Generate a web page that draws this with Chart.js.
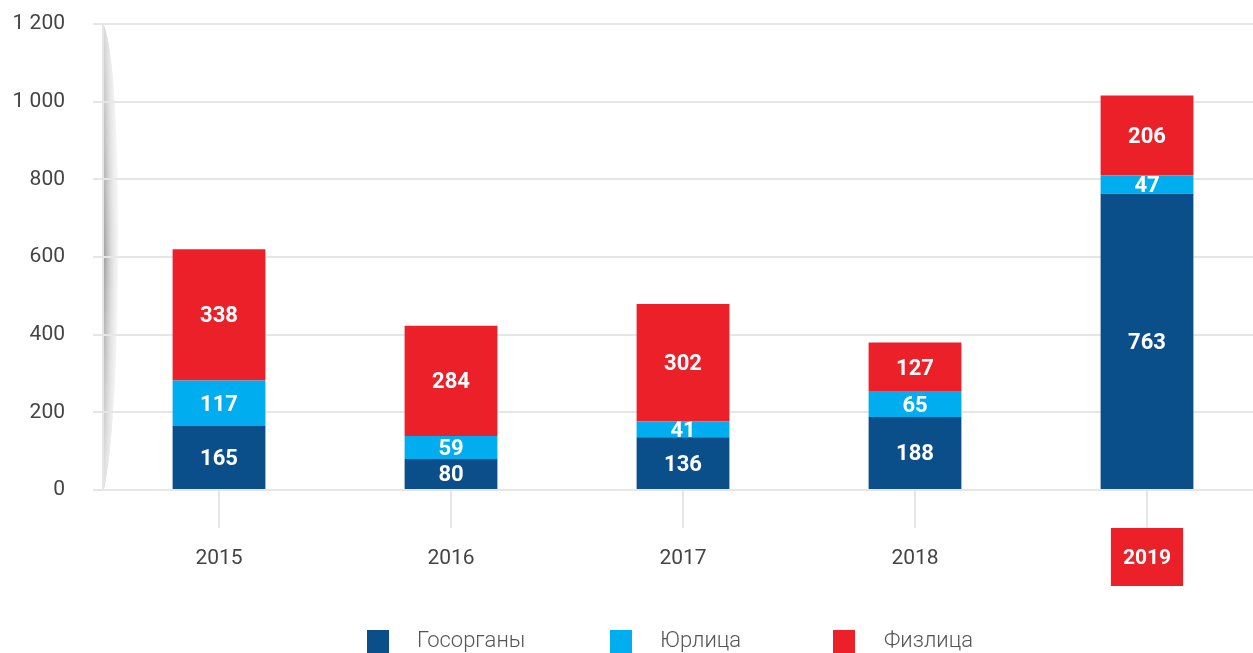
<!DOCTYPE html>
<html lang="ru">
<head>
<meta charset="utf-8">
<script src="https://cdn.jsdelivr.net/npm/chart.js@4/dist/chart.umd.min.js"></script>
<style>
  html, body { margin: 0; padding: 0; background: #fff; overflow: hidden; }
  #wrap { position: relative; width: 1253px; height: 653px; overflow: hidden; }
  #chart { position: absolute; left: 0; top: 0; }
  #legend { position: absolute; left: 0; top: 626px; width: 1253px; height: 30px; font-family: Roboto, sans-serif; font-weight: 300; font-size: 22px; color: #555; }
  .box { position: absolute; top: 4px; width: 22px; height: 24px; }
  .txt { position: absolute; top: 1px; }
</style>
</head>
<body>
<div id="wrap">
  <canvas id="chart" width="1263" height="653"></canvas>
  <div id="legend"></div>
</div>
<script>
// Обращения по годам, в разрезе типа заявителя
const years = ["2015", "2016", "2017", "2018", "2019"];
const gosorgany = [165, 80, 136, 188, 763];
const yurlitsa = [117, 59, 41, 65, 47];
const fizlitsa = [338, 284, 302, 127, 206];

const seriesNames = ["Госорганы", "Юрлица", "Физлица"];
const seriesColors = ["#0a4f8a", "#00aeef", "#ec2029"];
const highlightYear = "2019";

const gridColor = "#e6e6e6";

// подписи значений в центре каждого сегмента
const segmentLabels = {
  id: "segmentLabels",
  afterDatasetsDraw(chart) {
    const ctx = chart.ctx;
    ctx.save();
    ctx.fillStyle = "#fff";
    ctx.font = "bold 22px Roboto, sans-serif";
    ctx.textAlign = "center";
    ctx.textBaseline = "middle";
    chart.data.datasets.forEach((ds, i) => {
      chart.getDatasetMeta(i).data.forEach((bar, j) => {
        const p = bar.getProps(["x", "y", "base"], true);
        ctx.fillText(String(ds.data[j]), p.x, (p.y + p.base) / 2 + 2);
      });
    });
    ctx.restore();
  }
};

// серая тень вдоль оси Y
const axisShade = {
  id: "axisShade",
  beforeDraw(chart) {
    const { top, bottom, left } = chart.chartArea;
    const ctx = chart.ctx;
    const x0 = left + 1;
    const mid = top + (bottom - top) * 0.5;
    ctx.save();
    ctx.beginPath();
    ctx.moveTo(x0, top + 2);
    ctx.bezierCurveTo(x0 + 20, top + 50, x0 + 18, bottom - 80, x0, bottom - 2);
    ctx.closePath();
    ctx.clip();
    const gh = ctx.createLinearGradient(x0, 0, x0 + 17, 0);
    gh.addColorStop(0, "rgba(150,150,150,0.9)");
    gh.addColorStop(0.45, "rgba(200,200,200,0.6)");
    gh.addColorStop(1, "rgba(240,240,240,0.2)");
    ctx.fillStyle = gh;
    ctx.fillRect(x0, top, 20, bottom - top);
    const gv = ctx.createLinearGradient(0, top, 0, bottom);
    gv.addColorStop(0, "rgba(255,255,255,0.6)");
    gv.addColorStop((mid - top) / (bottom - top), "rgba(255,255,255,0)");
    gv.addColorStop(1, "rgba(255,255,255,0.7)");
    ctx.fillStyle = gv;
    ctx.fillRect(x0, top, 20, bottom - top);
    ctx.restore();
  }
};

const ctx = document.getElementById("chart").getContext("2d");
new Chart(ctx, {
  type: "bar",
  data: {
    labels: years,
    datasets: [gosorgany, yurlitsa, fizlitsa].map((values, i) => ({
      label: seriesNames[i],
      data: values,
      backgroundColor: seriesColors[i],
      barPercentage: 0.4,
      categoryPercentage: 1
    }))
  },
  options: {
    responsive: false,
    animation: false,
    devicePixelRatio: 1,
    layout: { padding: { top: 24, right: 0, bottom: 67, left: 0 } },
    plugins: { legend: { display: false }, tooltip: { enabled: false } },
    scales: {
      x: {
        stacked: true,
        afterFit(scale) { scale.height = 96; },
        border: { display: false },
        grid: {
          offset: false,
          drawOnChartArea: false,
          drawTicks: true,
          tickLength: 38,
          color: gridColor,
          lineWidth: 2
        },
        ticks: {
          padding: 18,
          color: (c) => c.tick && c.tick.label === highlightYear ? "#fff" : "#444",
          font: (c) => c.tick && c.tick.label === highlightYear
            ? { family: "Roboto, sans-serif", size: 21, weight: "bold" }
            : { family: "Roboto, sans-serif", size: 21 },
          showLabelBackdrop: (c) => !!(c.tick && c.tick.label === highlightYear),
          backdropColor: "#ec2029",
          backdropPadding: { top: 18, bottom: 18, left: 12, right: 12 }
        }
      },
      y: {
        stacked: true,
        min: 0,
        max: 1200,
        afterFit(scale) {
          scale.width = 103;
          scale.paddingTop = 0;
          scale.paddingBottom = 0;
        },
        border: { display: true, color: gridColor, width: 2 },
        grid: { color: gridColor, lineWidth: 2, tickLength: 10 },
        ticks: {
          stepSize: 200,
          padding: 28,
          color: "#444",
          font: { family: "Roboto, sans-serif", size: 21 },
          callback: (v) => String(v).replace(/\B(?=(\d{3})+(?!\d))/g, " ")
        }
      }
    }
  },
  plugins: [axisShade, segmentLabels]
});

// легенда
const legendPos = [[367, 417], [610, 660], [833, 884]];
const legend = document.getElementById("legend");
seriesNames.forEach((name, i) => {
  const box = document.createElement("div");
  box.className = "box";
  box.style.left = legendPos[i][0] + "px";
  box.style.background = seriesColors[i];
  const txt = document.createElement("div");
  txt.className = "txt";
  txt.style.left = legendPos[i][1] + "px";
  txt.textContent = name;
  legend.appendChild(box);
  legend.appendChild(txt);
});
</script>
</body>
</html>
